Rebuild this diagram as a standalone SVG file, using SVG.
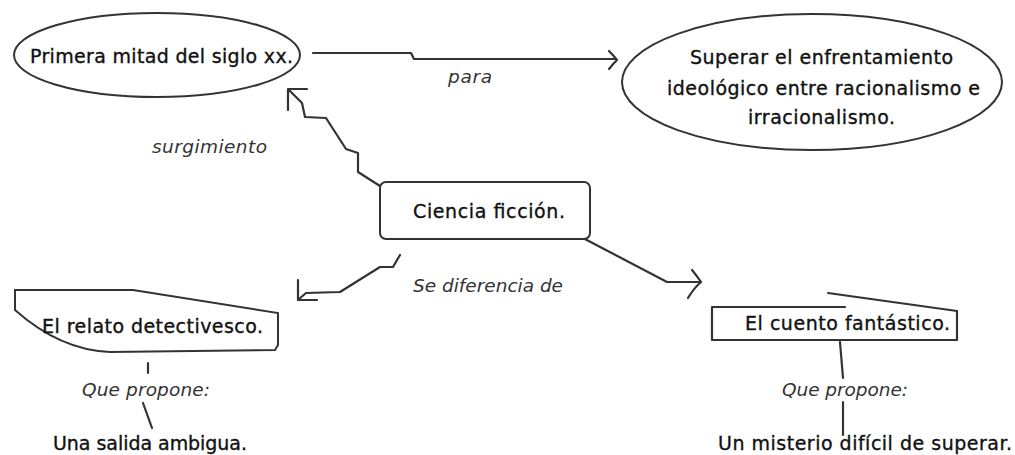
<svg xmlns="http://www.w3.org/2000/svg" width="1015" height="455" viewBox="0 0 1015 455">
<style>
.bg{fill:#ffffff}
.shape{fill:#ffffff;stroke:#333333;stroke-width:2}
.ln{fill:none;stroke:#333333;stroke-width:2.2;stroke-linejoin:round;stroke-linecap:round}
.t{font-family:"DejaVu Sans","Liberation Sans",sans-serif;font-size:19px;fill:#111111;stroke:#111111;stroke-width:0.35}
.lbl{font-family:"DejaVu Sans","Liberation Sans",sans-serif;font-size:18.5px;font-style:italic;fill:#333333}
</style>
<rect class="bg" x="0" y="0" width="1015" height="455"/>
<g id="connectors">
  <path class="ln" d="M313,53 H411 L414,59 H616"/>
  <path class="ln" d="M609,51 Q614,56 617,60 Q613,64 609,69"/>
  <path class="ln" d="M380,186 L358,172 L358,153 L346,149 L326,118 L305,117 L302,103 L289,90"/>
  <path class="ln" d="M307,89 H288 V110"/>
  <path class="ln" d="M400,255 L393,267 L380,267 L340,292 L306,293 L299,299"/>
  <path class="ln" d="M298,280 V300 H317"/>
  <path class="ln" d="M583,238 L667,282 H701"/>
  <path class="ln" d="M692,270 Q697,276 701,282 Q694,288 688,298"/>
  <path class="ln" d="M148,363 V373"/>
  <path class="ln" d="M143,403 L152,428"/>
  <path class="ln" d="M840,342 L843,378"/>
  <path class="ln" d="M843,402 V435"/>
</g>
<g id="node-primera">
  <ellipse class="shape" cx="157" cy="55" rx="143" ry="42"/>
  <text class="t" x="30" y="63" textLength="263" lengthAdjust="spacing">Primera mitad del siglo xx.</text>
</g>
<g id="label-para">
  <text class="lbl" x="448" y="83" textLength="44" lengthAdjust="spacing">para</text>
</g>
<g id="node-superar">
  <ellipse class="shape" cx="812" cy="82" rx="190" ry="68"/>
  <text class="t" x="690" y="64" textLength="263" lengthAdjust="spacing">Superar el enfrentamiento</text>
  <text class="t" x="667" y="95" textLength="313" lengthAdjust="spacing">ideológico entre racionalismo e</text>
  <text class="t" x="748" y="124" textLength="147" lengthAdjust="spacing">irracionalismo.</text>
</g>
<g id="label-surgimiento">
  <text class="lbl" x="152" y="153" textLength="115" lengthAdjust="spacing">surgimiento</text>
</g>
<g id="node-ciencia">
  <rect class="shape" x="380" y="182" width="210" height="57" rx="6"/>
  <text class="t" x="413" y="218" textLength="152" lengthAdjust="spacing">Ciencia ficción.</text>
</g>
<g id="label-diferencia">
  <text class="lbl" x="413" y="292" textLength="150" lengthAdjust="spacing">Se diferencia de</text>
</g>
<g id="node-relato">
  <path class="shape" d="M15,290 L133,290 L278,313 L278,345 L275,350 L110,352 Q60,350 15,310 Z"/>
  <text class="t" x="42" y="333" textLength="221" lengthAdjust="spacing">El relato detectivesco.</text>
</g>
<g id="node-cuento">
  <path class="ln" d="M845,307 H712 V340 H957 V311"/>
  <path class="ln" d="M828,293 L957,311"/>
  <text class="t" x="745" y="330" textLength="205" lengthAdjust="spacing">El cuento fantástico.</text>
</g>
<g id="label-propone-left">
  <text class="lbl" x="82" y="396" textLength="128" lengthAdjust="spacing">Que propone:</text>
</g>
<g id="node-ambigua">
  <text class="t" x="53" y="450" textLength="194" lengthAdjust="spacing">Una salida ambigua.</text>
</g>
<g id="label-propone-right">
  <text class="lbl" x="782" y="396" textLength="126" lengthAdjust="spacing">Que propone:</text>
</g>
<g id="node-misterio">
  <text class="t" x="718" y="450" textLength="294" lengthAdjust="spacing">Un misterio difícil de superar.</text>
</g>
</svg>
